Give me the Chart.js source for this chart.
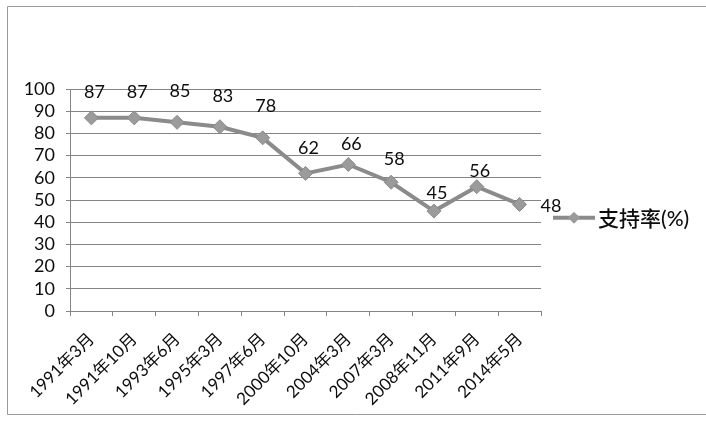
<!DOCTYPE html>
<html>
<head>
<meta charset="utf-8">
<script src="https://cdn.jsdelivr.net/npm/chart.js@4/dist/chart.umd.min.js"></script>
<style>
  html, body { margin: 0; padding: 0; background: #ffffff; }
  #wrap { width: 706px; height: 423px; position: relative; }
</style>
</head>
<body>
<div id="wrap"><canvas id="c" width="706" height="423"></canvas></div>
<script>
// Survey dates and approval rate (%)
const surveyDates = ['1991年3月', '1991年10月', '1993年6月', '1995年3月', '1997年6月',
  '2000年10月', '2004年3月', '2007年3月', '2008年11月', '2011年9月', '2014年5月'];
const supportRate = [87, 87, 85, 83, 78, 62, 66, 58, 45, 56, 48];
const seriesName = '支持率(%)';
const yTicks = [0, 10, 20, 30, 40, 50, 60, 70, 80, 90, 100];

const FONT = "Lato, 'Noto Sans CJK SC', sans-serif";
const LINE_GREY = '#8b8b8b';
const GRID_GREY = '#858585';
const TEXT = '#0d0d0d';

// Vertical lift (px) of each value label above its marker
const labelLift = [26, 26, 31, 31, 32, 25, 20, 23, 18, 15, 0];

// Value labels above markers; the last one sits to the right of its marker
const valueLabels = {
  id: 'valueLabels',
  afterDatasetsDraw(chart) {
    const ctx = chart.ctx;
    const meta = chart.getDatasetMeta(0);
    const data = chart.data.datasets[0].data;
    ctx.save();
    ctx.font = '18px ' + FONT;
    ctx.fillStyle = TEXT;
    ctx.textBaseline = 'middle';
    meta.data.forEach((pt, i) => {
      const last = i === data.length - 1;
      if (last) {
        ctx.textAlign = 'left';
        ctx.fillText(String(data[i]), pt.x + 21, pt.y + 2);
      } else {
        ctx.textAlign = 'center';
        ctx.fillText(String(data[i]), pt.x + 3, pt.y - labelLift[i]);
      }
    });
    ctx.restore();
  }
};

// Legend entry on the right and the outer frame
const sideLegend = {
  id: 'sideLegend',
  afterDraw(chart) {
    const ctx = chart.ctx;
    const ds = chart.data.datasets[0];
    const area = chart.chartArea;
    const y = area.top + (area.bottom - area.top) * 0.58;
    const x0 = area.right + 12, x1 = x0 + 42;
    ctx.save();
    ctx.strokeStyle = ds.borderColor;
    ctx.lineWidth = ds.borderWidth;
    ctx.beginPath();
    ctx.moveTo(x0, y);
    ctx.lineTo(x1, y);
    ctx.stroke();
    const cx = (x0 + x1) / 2, r = 6;
    ctx.fillStyle = ds.pointBackgroundColor;
    ctx.beginPath();
    ctx.moveTo(cx, y - r); ctx.lineTo(cx + r, y); ctx.lineTo(cx, y + r); ctx.lineTo(cx - r, y);
    ctx.closePath();
    ctx.fill();
    ctx.font = '500 21px ' + FONT;
    ctx.fillStyle = TEXT;
    ctx.textAlign = 'left';
    ctx.textBaseline = 'middle';
    ctx.fillText(ds.label, x1 + 3, y + 1);
    // frame
    ctx.strokeStyle = '#9a9a9a';
    ctx.lineWidth = 1;
    ctx.beginPath();
    ctx.moveTo(706, 6.5); ctx.lineTo(7.5, 6.5); ctx.lineTo(7.5, 414.5); ctx.lineTo(706, 414.5);
    ctx.stroke();
    ctx.restore();
  }
};

new Chart(document.getElementById('c'), {
  type: 'line',
  data: {
    labels: surveyDates,
    datasets: [{
      label: seriesName,
      data: supportRate,
      borderColor: LINE_GREY,
      borderWidth: 4,
      tension: 0,
      pointStyle: 'rectRot',
      pointRadius: 7,
      pointBackgroundColor: '#9b9b9b',
      pointBorderColor: '#8a8a8a',
      pointBorderWidth: 1
    }]
  },
  options: {
    responsive: false,
    animation: false,
    devicePixelRatio: 1,
    layout: { padding: { top: 89, right: 165, left: 0, bottom: 0 } },
    plugins: {
      legend: { display: false },
      tooltip: { enabled: false }
    },
    scales: {
      x: {
        offset: true,
        grid: { offset: true, drawOnChartArea: false, drawTicks: true, tickLength: 5, color: GRID_GREY },
        border: { color: GRID_GREY, width: 1 },
        ticks: {
          color: TEXT,
          font: { family: FONT, size: 17 },
          minRotation: 45,
          maxRotation: 45,
          autoSkip: false,
          padding: 13
        },
        afterFit(scale) { scale.height = 112; }
      },
      y: {
        min: 0,
        max: 100,
        afterBuildTicks(scale) { scale.ticks = yTicks.map(v => ({ value: v })); },
        grid: { color: GRID_GREY, lineWidth: 1, tickLength: 4 },
        border: { color: GRID_GREY, width: 1 },
        ticks: {
          color: TEXT,
          font: { family: FONT, size: 18 },
          padding: 11,
          autoSkip: false
        },
        afterFit(scale) { scale.width = 70; }
      }
    }
  },
  plugins: [valueLabels, sideLegend]
});
</script>
</body>
</html>
